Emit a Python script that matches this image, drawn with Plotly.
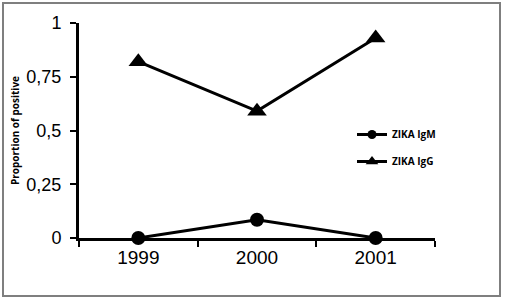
import plotly.graph_objects as go

years = ["1999", "2000", "2001"]
igm = [0.0, 0.085, 0.0]
igg = [0.82, 0.59, 0.93]
y_ticks = [0, 0.25, 0.5, 0.75, 1]
y_tick_labels = ["0", "0,25", "0,5", "0,75", "1"]
series_names = ["ZIKA IgM", "ZIKA IgG"]

W, H = 505, 300
L, R, T, B = 79, 70, 23, 62
pw, ph = W - L - R, H - T - B

fig = go.Figure()
fig.add_trace(go.Scatter(x=years, y=igm, name=series_names[0], mode="lines+markers",
                         line=dict(color="black", width=3), showlegend=False,
                         marker=dict(symbol="circle", size=14, color="black"), cliponaxis=False))
fig.add_trace(go.Scatter(x=years, y=igg, name=series_names[1], mode="lines+markers",
                         line=dict(color="black", width=3), showlegend=False,
                         marker=dict(symbol="triangle-up", size=17, color="black"), cliponaxis=False))
# legend entries with smaller symbols
fig.add_trace(go.Scatter(x=[None], y=[None], name=series_names[0], mode="lines+markers",
                         legendgroup="a", line=dict(color="black", width=3),
                         marker=dict(symbol="circle", size=9, color="black")))
fig.add_trace(go.Scatter(x=[None], y=[None], name=series_names[1], mode="lines+markers",
                         legendgroup="b", line=dict(color="black", width=3),
                         marker=dict(symbol="triangle-up", size=11, color="black")))

def px_x(p):
    return (p - L) / pw

def px_y(p):
    return (H - B - p) / ph

fig.add_shape(type="rect", xref="paper", yref="paper",
              x0=px_x(3), x1=px_x(500), y0=px_y(296), y1=px_y(3),
              line=dict(color="#7f7f7f", width=2), layer="below")

fig.update_layout(
    width=W, height=H,
    margin=dict(l=L, r=R, t=T, b=B),
    paper_bgcolor="white", plot_bgcolor="white",
    showlegend=True,
    legend=dict(x=px_x(352), y=px_y(120), xanchor="left", yanchor="top",
                font=dict(family="Open Sans", size=10, color="black", weight="bold"),
                bgcolor="rgba(0,0,0,0)", tracegroupgap=8, itemwidth=30),
    xaxis=dict(type="category", range=[-0.5, 2.5], showline=True, linecolor="black", linewidth=3,
               ticks="outside", tickson="boundaries", ticklen=6, tickwidth=2, tickcolor="black",
               showgrid=False, zeroline=False,
               tickfont=dict(family="Liberation Sans", size=19, color="black")),
    yaxis=dict(range=[0, 1], tickvals=y_ticks, ticktext=y_tick_labels, showline=True,
               linecolor="black", linewidth=3, ticks="outside", ticklen=6, tickwidth=2,
               tickcolor="black", showgrid=False, zeroline=False, ticklabelstandoff=5,
               tickfont=dict(family="Liberation Sans", size=18, color="black"),
               title=dict(text="Proportion of positive", standoff=5,
                          font=dict(family="Open Sans", size=10, color="black", weight="bold"))),
)

fig.write_html("out.html")
